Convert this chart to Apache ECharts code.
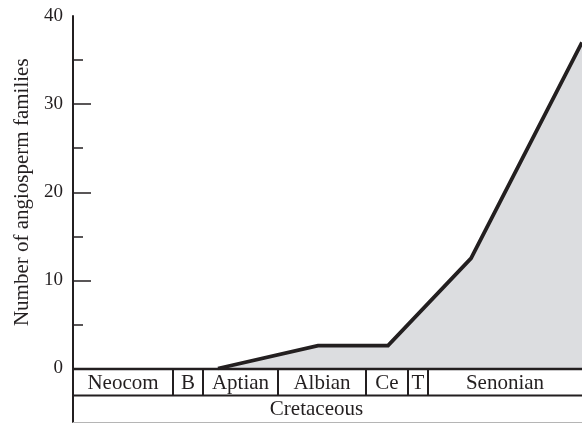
<!DOCTYPE html>
<html>
<head>
<meta charset="utf-8">
<script src="https://cdn.jsdelivr.net/npm/echarts@6/dist/echarts.min.js"></script>
<style>html,body{margin:0;padding:0;background:#fff;}#c{width:582px;height:423px;}</style>
</head>
<body>
<div id="c"></div>
<script>
// Data (x in relative time units along the Cretaceous strip)
const lineX = [145, 245, 315, 398, 509];
const lineY = [0, 2.6, 2.6, 12.5, 37];
const stageNames = ['Neocom', 'B', 'Aptian', 'Albian', 'Ce', 'T', 'Senonian'];
const stageStart = [0, 100, 130, 205, 293, 335, 355];
const stageEnd = [100, 130, 205, 293, 335, 355, 509];
const periodNames = ['Cretaceous'];
const periodStart = [0];
const periodEnd = [487];
const yTicks = [0, 10, 20, 30, 40];
const yMajorTickMarks = [10, 20, 30];
const xMax = 509;

const ink = '#231f20';
const font = 'Liberation Serif';

const cells = [];
stageNames.forEach((n, i) => cells.push({ value: [stageStart[i], stageEnd[i], 0], name: n }));
periodNames.forEach((n, i) => cells.push({ value: [periodStart[i], periodEnd[i], 1], name: n }));

const chart = echarts.init(document.getElementById('c'));
chart.setOption({
  animation: false,
  backgroundColor: '#fff',
  grid: [
    { left: 73, right: 0, top: 16, bottom: 54.5 },
    { left: 73, right: 0, top: 369, bottom: 1 }
  ],
  xAxis: [
    { type: 'value', gridIndex: 0, min: 0, max: xMax, show: false },
    { type: 'value', gridIndex: 1, min: 0, max: xMax, show: false }
  ],
  yAxis: [
    {
      type: 'value', gridIndex: 0, min: yTicks[0], max: yTicks[yTicks.length - 1], interval: 10,
      name: 'Number of angiosperm families', nameLocation: 'middle', nameRotate: 90, nameGap: 39,
      nameTextStyle: { fontFamily: font, fontSize: 21, color: ink },
      axisLine: { show: true, lineStyle: { color: ink, width: 2 } },
      axisTick: { show: true, inside: true, length: 18, customValues: yMajorTickMarks, lineStyle: { color: ink, width: 1.5 } },
      minorTick: { show: true, splitNumber: 2, length: 10, lineStyle: { color: ink, width: 1.5 } },
      axisLabel: { fontFamily: font, fontSize: 19, color: ink, margin: 10 },
      splitLine: { show: false }
    },
    {
      type: 'value', gridIndex: 1, min: 0, max: 2,
      axisLine: { show: true, lineStyle: { color: ink, width: 2 } },
      axisTick: { show: false }, axisLabel: { show: false }, splitLine: { show: false }
    }
  ],
  series: [
    {
      type: 'line', xAxisIndex: 0, yAxisIndex: 0,
      data: lineX.map((x, i) => [x, lineY[i]]),
      symbol: 'none',
      lineStyle: { color: ink, width: 3.8, join: 'miter' },
      areaStyle: { color: '#dcdde0', opacity: 1 },
      z: 2
    },
    {
      type: 'custom', xAxisIndex: 1, yAxisIndex: 1,
      data: cells,
      renderItem: function (params, api) {
        const s = api.value(0), e = api.value(1), row = api.value(2);
        const yTop = row === 0 ? 2 : 1, yBot = row === 0 ? 1 : 0;
        const p1 = api.coord([s, yTop]);
        const p2 = api.coord([e, yBot]);
        const name = cells[params.dataIndex].name;
        const children = [{
          type: 'text',
          style: {
            text: name, x: (p1[0] + p2[0]) / 2, y: (p1[1] + p2[1]) / 2 + 1,
            align: 'center', verticalAlign: 'middle',
            font: '21px "' + font + '"', fill: ink
          }
        }];
        if (row === 0) {
          children.push({ type: 'line', shape: { x1: p1[0], y1: p1[1], x2: p2[0], y2: p1[1] }, style: { stroke: ink, lineWidth: 2.5 } });
          children.push({ type: 'line', shape: { x1: p1[0], y1: p2[1], x2: p2[0], y2: p2[1] }, style: { stroke: ink, lineWidth: 2 } });
          if (e < xMax) {
            children.push({ type: 'line', shape: { x1: p2[0], y1: p1[1], x2: p2[0], y2: p2[1] }, style: { stroke: ink, lineWidth: 2 } });
          }
        } else {
          const a = api.coord([0, 0]), b = api.coord([xMax, 0]);
          children.push({ type: 'line', shape: { x1: a[0], y1: a[1] + 0.5, x2: b[0], y2: b[1] + 0.5 }, style: { stroke: '#b5b5b5', lineWidth: 1 } });
        }
        return { type: 'group', children: children };
      },
      z: 3
    }
  ]
});
</script>
</body>
</html>
